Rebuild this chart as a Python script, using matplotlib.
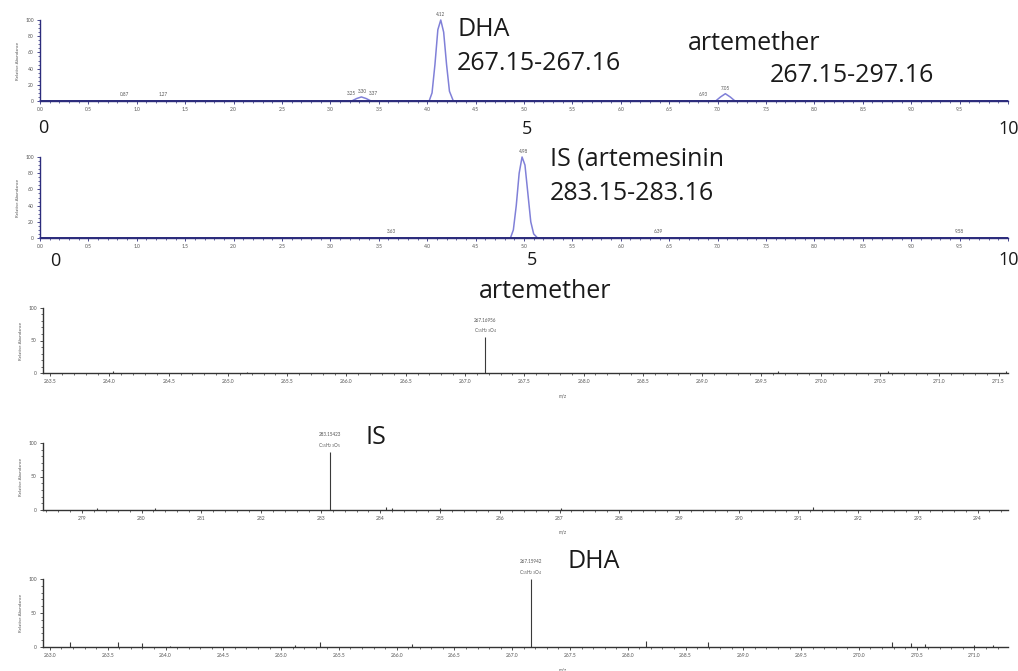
import matplotlib.pyplot as plt
from matplotlib.ticker import MultipleLocator

W, H = 1018, 671

# chromatogram 1: DHA / artemether XIC (time in min, relative abundance)
rt1 = [0.0, 3.22, 3.27, 3.32, 3.37, 3.42, 4.02, 4.05, 4.08, 4.11, 4.14, 4.17, 4.20, 4.23, 4.27,
       6.98, 7.03, 7.08, 7.13, 7.18, 10.0]
ab1 = [0, 0, 3, 5, 3, 0, 0, 10, 45, 88, 100, 85, 45, 12, 0, 0, 5, 9, 5, 0, 0]
lab1_rt = [0.87, 1.27, 3.22, 3.33, 3.44, 4.14, 6.85, 7.08]
lab1_ab = [1, 1, 3, 5, 3, 100, 1, 9]
lab1_txt = ['0.87', '1.27', '3.25', '3.30', '3.37', '4.12', '6.93', '7.05']

# chromatogram 2: IS (artemisinin) XIC
rt2 = [0.0, 4.86, 4.89, 4.92, 4.95, 4.98, 5.01, 5.04, 5.07, 5.10, 5.14, 10.0]
ab2 = [0, 0, 10, 40, 80, 100, 90, 55, 20, 5, 0, 0]
lab2_rt = [3.63, 4.99, 6.39, 9.50]
lab2_ab = [1, 100, 1, 1]
lab2_txt = ['3.63', '4.98', '6.39', '9.58']

# spectrum 3: artemether
mz3 = [264.03, 265.16, 267.17, 269.64, 270.57, 271.56]
ab3 = [3, 2, 55, 3, 3, 3]
# spectrum 4: IS
mz4 = [279.25, 280.23, 283.15, 284.10, 284.20, 285.00, 287.03, 291.25]
ab4 = [3, 3, 87, 4, 3, 3, 3, 4]
# spectrum 5: DHA
mz5 = [263.17, 263.59, 263.80, 264.04, 265.12, 265.34, 266.13, 267.16,
       268.16, 268.69, 270.29, 270.45, 270.57, 271.00, 271.16]
ab5 = [7, 8, 6, 2, 3, 8, 5, 100, 9, 8, 8, 6, 4, 3, 3]

plt.rcParams['font.family'] = ['Lato', 'DejaVu Sans']
fig = plt.figure(figsize=(W / 100, H / 100), dpi=100)

navy = '#2c2c7c'
trace = '#8080d8'
grey = '#555555'


def px_axes(l, t, r, b):
    return fig.add_axes([l / W, 1 - b / H, (r - l) / W, (b - t) / H])


def style(ax, col, ymaj, ymin, xmaj, xmin):
    for s in ['top', 'right']:
        ax.spines[s].set_visible(False)
    for s in ['left', 'bottom']:
        ax.spines[s].set_color(col)
        ax.spines[s].set_linewidth(1.0)
    ax.yaxis.set_major_locator(MultipleLocator(ymaj))
    ax.yaxis.set_minor_locator(MultipleLocator(ymin))
    ax.xaxis.set_major_locator(MultipleLocator(xmaj))
    ax.xaxis.set_minor_locator(MultipleLocator(xmin))
    ax.tick_params(which='major', length=2.5, width=0.6, colors=col, labelsize=3.6,
                   labelcolor=grey, pad=2)
    ax.tick_params(which='minor', length=1.5, width=0.5, colors=col)
    ax.set_ylabel('Relative Abundance', fontsize=3.2, color=grey, labelpad=4)
    ax.patch.set_alpha(0)


def label_small(ax, xs, ys, txts, dy=2):
    for x, y, t in zip(xs, ys, txts):
        ax.annotate(t, (x, y), xytext=(0, dy), textcoords='offset points',
                    ha='center', va='bottom', fontsize=3.3, color=grey,
                    annotation_clip=False)


# chromatograms
for (top, bot, rt, ab, lx, ly, lt) in [(20, 101, rt1, ab1, lab1_rt, lab1_ab, lab1_txt),
                                       (157, 238, rt2, ab2, lab2_rt, lab2_ab, lab2_txt)]:
    ax = px_axes(40, top, 1008, bot)
    ax.plot(rt, ab, color=trace, lw=1.1, clip_on=False)
    ax.axhline(0, color=navy, lw=1.4)
    ax.set_xlim(0, 10)
    ax.set_ylim(0, 100)
    style(ax, navy, 20, 5, 0.5, 0.1)
    ax.xaxis.set_major_formatter(lambda v, p: '' if v > 9.9 else f'{v:.1f}')
    label_small(ax, lx, ly, lt)

# spectra
specs = [(43, 308, 1008, 373, (263.44, 271.58), mz3, ab3, 0.5, 0.1, '267.16956', '{:.1f}'),
         (43, 443, 1008, 510, (278.35, 294.51), mz4, ab4, 1, 0.2, '283.15423', '{:.0f}'),
         (43, 579, 1008, 647, (262.94, 271.29), mz5, ab5, 0.5, 0.1, '267.15942', '{:.1f}')]
formulas = ['C$_{15}$H$_{23}$O$_4$', 'C$_{15}$H$_{23}$O$_5$', 'C$_{15}$H$_{23}$O$_4$']
for (l, t, r, b, xl, mz, ab, xmaj, xmin, ptxt, fmt), form in zip(specs, formulas):
    ax = px_axes(l, t, r, b)
    ax.vlines(mz, 0, ab, color='#3a3a3a', lw=0.8)
    ax.set_xlim(*xl)
    ax.set_ylim(0, 100)
    style(ax, '#333333', 50, 10, xmaj, xmin)
    ax.xaxis.set_major_formatter(lambda v, p, f=fmt: f.format(v))
    i = ab.index(max(ab))
    ax.annotate(ptxt + '\n' + form, (mz[i], ab[i]), xytext=(0, 1.5),
                textcoords='offset points', ha='center', va='bottom',
                fontsize=3.3, color=grey, linespacing=1.6, annotation_clip=False)
    fig.text(563 / W, 1 - (b + 24) / H, 'm/z', fontsize=3.3, color=grey, ha='center')


# overlaid annotations
def note(x, y, s, size=18):
    fig.text(x / W, 1 - y / H, s, fontsize=size, va='center', ha='left',
             color='#1a1a1a', family=['Open Sans', 'DejaVu Sans'])


note(457, 30, 'DHA')
note(457, 64, '267.15-267.16')
note(688, 44, 'artemether')
note(770, 75, '267.15-297.16')
note(38, 128, '0', 13)
note(522, 129, '5', 13)
note(998, 129, '10', 13)
note(550, 159, 'IS (artemesinin')
note(550, 194, '283.15-283.16')
note(50, 261, '0', 13)
note(527, 260, '5', 13)
note(998, 260, '10', 13)
note(479, 291, 'artemether')
note(366, 437, 'IS')
note(567, 561, 'DHA')

fig.savefig('out.png', dpi=100)
